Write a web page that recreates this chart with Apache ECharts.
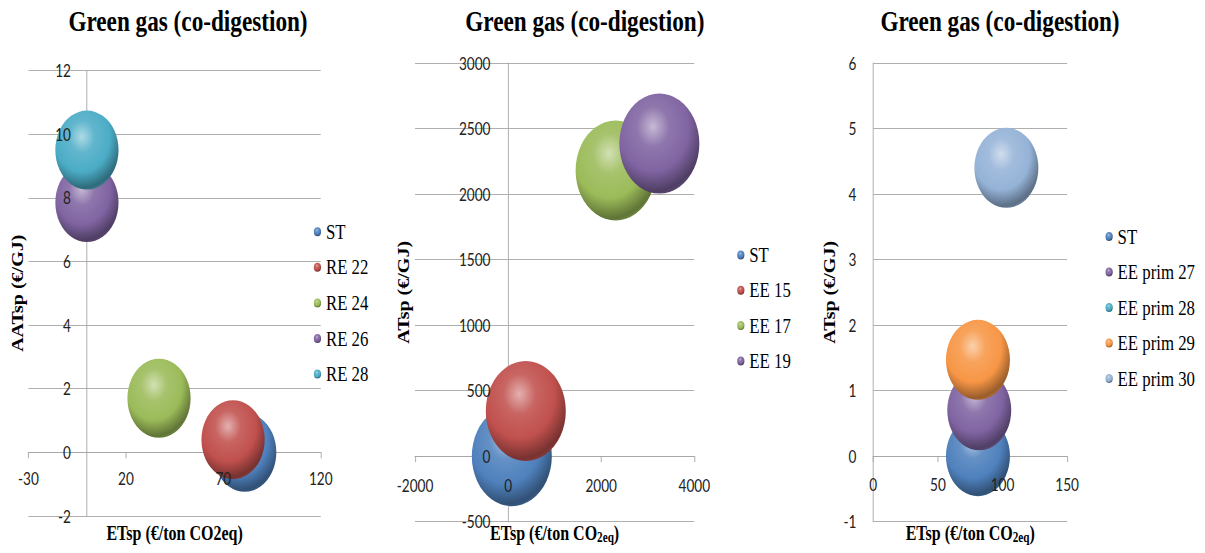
<!DOCTYPE html>
<html>
<head>
<meta charset="utf-8">
<script src="https://cdn.jsdelivr.net/npm/echarts@6/dist/echarts.min.js"></script>
<style>
  html, body { margin: 0; padding: 0; background: #fff; width: 1205px; height: 553px; overflow: hidden; }
  /* the chart is laid out wide and narrowed horizontally, as in the printed figure */
  #chart { width: 1506.25px; height: 553px; transform: scaleX(0.8); transform-origin: 0 0; }
</style>
</head>
<body>
<div id="chart"></div>
<script>
// ---- Panel 1: RE variants ----
const p1Names = ['ST', 'RE 22', 'RE 24', 'RE 26', 'RE 28'];
const p1ETsp  = [81, 75, 37, 0, 0];
const p1ATsp  = [0, 0.4, 1.7, 7.85, 9.5];
const p1XTicks = [-30, 20, 70, 120];
const p1YTicks = [-2, 0, 2, 4, 6, 8, 10, 12];

// ---- Panel 2: EE variants ----
const p2Names = ['ST', 'EE 15', 'EE 17', 'EE 19'];
const p2ETsp  = [80, 380, 2310, 3250];
const p2ATsp  = [0, 345, 2180, 2385];
const p2XTicks = [-2000, 0, 2000, 4000];
const p2YTicks = [-500, 0, 500, 1000, 1500, 2000, 2500, 3000];

// ---- Panel 3: EE prim variants (EE prim 28 has no point) ----
const p3Names = ['ST', 'EE prim 27', 'EE prim 28', 'EE prim 29', 'EE prim 30'];
const p3ETsp  = [81, 82, null, 81, 103];
const p3ATsp  = [0, 0.7, null, 1.47, 4.4];
const p3XTicks = [0, 50, 100, 150];
const p3YTicks = [-1, 0, 1, 2, 3, 4, 5, 6];

// ---- styling ----
const p1Colors = ['#4f81bd', '#c0504d', '#9bbb59', '#8064a2', '#4bacc6'];
const p2Colors = ['#4f81bd', '#c0504d', '#9bbb59', '#8064a2'];
const p3Colors = ['#4f81bd', '#8064a2', '#4bacc6', '#f79646', '#95b3d7'];

const SERIF = '"Liberation Serif", "Times New Roman", serif';
const SANS = 'Lato, "Liberation Sans", sans-serif';
const GRID_GRAY = '#a6a6a6';
const ELLIPSE = 'path://M0,5a5,5 0 1,0 10,0a5,5 0 1,0 -10,0z';

function mix(hex, to, t) {
  const a = parseInt(hex.slice(1), 16), b = parseInt(to.slice(1), 16);
  const c = (s) => Math.round(((a >> s) & 255) * (1 - t) + ((b >> s) & 255) * t);
  return 'rgb(' + c(16) + ',' + c(8) + ',' + c(0) + ')';
}
// glossy ball shading
function sphere(hex) {
  return new echarts.graphic.RadialGradient(0.42, 0.33, 0.72, [
    { offset: 0,    color: mix(hex, '#ffffff', 0.55) },
    { offset: 0.28, color: mix(hex, '#ffffff', 0.12) },
    { offset: 0.62, color: hex },
    { offset: 0.9,  color: mix(hex, '#000000', 0.38) },
    { offset: 1,    color: mix(hex, '#000000', 0.22) }
  ]);
}

const panels = [
  { names: p1Names, xs: p1ETsp, ys: p1ATsp, colors: p1Colors, xTicks: p1XTicks, yTicks: p1YTicks,
    grid: [35.6, 70.5, 365.3, 445.5], bubble: 79, titleX: 235,
    yName: 'AATsp (€/GJ)', yNameGap: 75, xName: 'ETsp (€/ton CO2eq)', xNameGap: 70,
    xLabelMargin: 18, yLabelMargin: 20,
    legend: { left: 392.3, top: 221.2, gap: 14.6 } },
  { names: p2Names, xs: p2ETsp, ys: p2ATsp, colors: p2Colors, xTicks: p2XTicks, yTicks: p2YTicks,
    grid: [518.75, 63, 349.1, 458.7], bubble: 100, titleX: 731,
    yName: 'ATsp (€/GJ)', yNameGap: 119, xName: 'ETsp (€/ton CO{s|2eq})', xNameGap: 66,
    xLabelMargin: 21, yLabelMargin: 22,
    legend: { left: 921.5, top: 244.5, gap: 14.3 } },
  { names: p3Names, xs: p3ETsp, ys: p3ATsp, colors: p3Colors, xTicks: p3XTicks, yTicks: p3YTicks,
    grid: [1091.6, 63, 242.3, 458.7], bubble: 80, titleX: 1250,
    yName: 'ATsp (€/GJ)', yNameGap: 44, xName: 'ETsp (€/ton CO{s|2eq})', xNameGap: 66,
    xLabelMargin: 20, yLabelMargin: 21,
    legend: { left: 1381.9, top: 226, gap: 14.5 } }
];

const option = {
  animation: false,
  backgroundColor: '#ffffff',
  title: [], grid: [], xAxis: [], yAxis: [], legend: [], series: []
};

const nameStyle = {
  fontFamily: SERIF, fontSize: 20, fontWeight: 'bold', color: '#000', lineHeight: 22,
  rich: { s: { fontFamily: SERIF, fontSize: 14, fontWeight: 'bold', color: '#000', lineHeight: 12, verticalAlign: 'bottom' } }
};
const tickLabel = { fontFamily: SANS, fontSize: 17, color: '#222', formatter: (v) => String(v) };

panels.forEach((p, i) => {
  option.title.push({
    text: 'Green gas (co-digestion)', left: p.titleX, top: 7, textAlign: 'center', padding: 0,
    textStyle: { fontFamily: SERIF, fontSize: 29, fontWeight: 'bold', color: '#000' }
  });
  const [gl, gt, gw, gh] = p.grid;
  option.grid.push({ left: gl, top: gt, width: gw, height: gh, outerBoundsMode: 'none' });

  const xMin = p.xTicks[0], xMax = p.xTicks[p.xTicks.length - 1];
  const yMin = p.yTicks[0], yMax = p.yTicks[p.yTicks.length - 1];
  const yStep = p.yTicks[1] - p.yTicks[0];
  // distance of the zero lines from the grid's bottom / left edges
  const xZeroShift = -gh * (0 - yMin) / (yMax - yMin);
  const yZeroShift = -gw * (0 - xMin) / (xMax - xMin);

  // base axes: axis lines, ticks and gridlines (beneath the bubbles)
  option.xAxis.push({
    type: 'value', gridIndex: i, position: 'bottom', min: xMin, max: xMax, z: 0,
    axisLine: { onZero: true, lineStyle: { color: GRID_GRAY, width: 1 } },
    axisTick: { show: true, length: 6, customValues: p.xTicks, lineStyle: { color: GRID_GRAY } },
    axisLabel: { show: false, customValues: p.xTicks },
    splitLine: { show: false }
  });
  option.yAxis.push({
    type: 'value', gridIndex: i, position: 'left', min: yMin, max: yMax, interval: yStep, z: 0,
    axisLine: { show: true, onZero: true, lineStyle: { color: GRID_GRAY, width: 1 } },
    axisTick: { show: false },
    axisLabel: { show: false },
    splitLine: { show: true, lineStyle: { color: GRID_GRAY, width: 1 } }
  });
  // label axes: tick labels and titles, placed on the zero lines and drawn above the bubbles
  option.xAxis.push({
    type: 'value', gridIndex: i, position: 'bottom', offset: xZeroShift, min: xMin, max: xMax, z: 6,
    axisLine: { show: false, onZero: false }, axisTick: { show: false }, splitLine: { show: false },
    axisLabel: Object.assign({ show: true, margin: p.xLabelMargin, customValues: p.xTicks }, tickLabel),
    name: p.xName, nameLocation: 'middle', nameGap: p.xNameGap, nameMoveOverlap: false,
    nameTextStyle: nameStyle
  });
  option.yAxis.push({
    type: 'value', gridIndex: i, position: 'left', offset: yZeroShift, min: yMin, max: yMax, interval: yStep, z: 6,
    axisLine: { show: false, onZero: false }, axisTick: { show: false }, splitLine: { show: false },
    axisLabel: Object.assign({ show: true, margin: p.yLabelMargin }, tickLabel),
    name: p.yName, nameLocation: 'middle', nameRotate: 90, nameGap: p.yNameGap, nameMoveOverlap: false,
    nameTextStyle: nameStyle
  });

  p.names.forEach((name, k) => {
    const pts = p.xs[k] == null ? [] : [[p.xs[k], p.ys[k]]];
    option.series.push({
      type: 'scatter', name: name, xAxisIndex: 2 * i, yAxisIndex: 2 * i,
      data: pts, symbol: 'circle', symbolSize: p.bubble, z: 2, silent: true,
      itemStyle: { color: sphere(p.colors[k]), opacity: 1 },
      emphasis: { disabled: true }
    });
  });

  option.legend.push({
    data: p.names, orient: 'vertical', left: p.legend.left, top: p.legend.top,
    itemGap: p.legend.gap, itemWidth: 11.25, itemHeight: 9, icon: ELLIPSE,
    selectedMode: false, padding: 0,
    textStyle: { fontFamily: SERIF, fontSize: 21, color: '#000', lineHeight: 21 }
  });
});

const chart = echarts.init(document.getElementById('chart'), null, { renderer: 'svg' });
chart.setOption(option);
</script>
</body>
</html>
